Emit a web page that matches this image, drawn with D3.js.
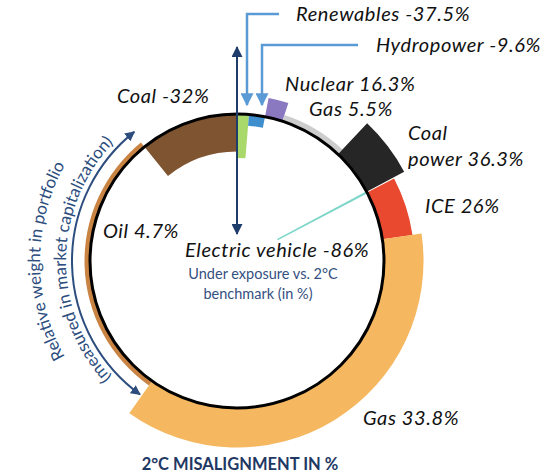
<!DOCTYPE html>
<html>
<head>
<meta charset="utf-8">
<script src="https://cdn.jsdelivr.net/npm/d3@7"></script>
<style>
  body { margin: 0; background: #fff; }
  svg text { font-family: Lato, "Open Sans", sans-serif; }
</style>
</head>
<body>
<svg id="svg"></svg>
<script>
// sectors clockwise from 12 o'clock
var sectors = ["Renewables", "Hydropower", "Nuclear", "Gas", "Coal power",
               "Electric vehicle", "ICE", "Gas", "Oil", "Coal"];
// relative weight in portfolio (%), sets the angular span
var weights = [1.3, 1.75, 1.95, 7.05, 5.15, 0.1, 5.35, 37.15, 29.35, 10.85];
// 2°C misalignment (%), sets the radial extent
var misalignment = [-37.5, -9.6, 16.3, 5.5, 36.3, -86, 26, 33.8, 4.7, -32];
var colors = ["#a9d86b", "#3f8fcf", "#8a78c0", "#cdcdcd", "#262626",
              "#7dd6c9", "#e8492f", "#f5b860", "#c98443", "#7f5431"];

var width = 560,
    height = 475,
    cx = 237,
    cy = 261,
    r0 = 147,
    navy = "#1f3d6b",
    textBlue = "#34507f",
    lightBlue = "#5b9bd5";

// where each value label sits (layout only)
var labelPos = [
  {x: 296, y: 21}, {x: 376, y: 52}, {x: 285, y: 91}, {x: 309, y: 116},
  {x: 408, y: 140, wrap: true}, {x: 185, y: 257}, {x: 425, y: 213},
  {x: 363, y: 425}, {x: 103, y: 238}, {x: 117, y: 103}
];

var svg = d3.select("#svg")
  .attr("width", width)
  .attr("height", height);

var defs = svg.append("defs");

function addMarker(id, color, len, wid) {
  defs.append("marker")
    .attr("id", id)
    .attr("viewBox", "0 0 10 10")
    .attr("refX", 9)
    .attr("refY", 5)
    .attr("markerWidth", len)
    .attr("markerHeight", wid)
    .attr("markerUnits", "userSpaceOnUse")
    .attr("orient", "auto-start-reverse")
    .append("path")
    .attr("d", "M0,0L10,5L0,10Z")
    .attr("fill", color);
}
addMarker("headLight", lightBlue, 13, 13);
addMarker("headNavy", navy, 12, 11);
addMarker("headArc", "#2c4d7e", 10, 10);

var total = d3.sum(weights);
var angle = d3.scaleLinear().domain([0, total]).range([0, 2 * Math.PI]);
var radius = d3.scaleLinear().domain([0, 100]).range([r0, r0 + 117]);

var cum = 0;
var segs = sectors.map(function(s, i) {
  var d = {name: s, w: weights[i], v: misalignment[i], color: colors[i],
           a0: angle(cum), a1: angle(cum + weights[i])};
  cum += weights[i];
  return d;
});

var arc = d3.arc()
  .startAngle(function(d) { return d.a0; })
  .endAngle(function(d) { return d.a1; })
  .innerRadius(function(d) { return Math.min(radius(0), radius(d.v)); })
  .outerRadius(function(d) { return Math.max(radius(0), radius(d.v)); });

var g = svg.append("g").attr("transform", "translate(" + cx + "," + cy + ")");

g.selectAll("path.seg")
  .data(segs)
  .enter()
  .append("path")
  .attr("class", "seg")
  .attr("d", arc)
  .attr("fill", function(d) { return d.color; })
  .attr("stroke", function(d) { return d.w < 0.5 ? d.color : "none"; })
  .attr("stroke-width", 1.3);

// benchmark circle
g.append("circle")
  .attr("r", r0)
  .attr("fill", "none")
  .attr("stroke", "#000")
  .attr("stroke-width", 3);

// vertical under/over exposure axis
svg.append("line")
  .attr("x1", cx).attr("y1", 47)
  .attr("x2", cx).attr("y2", 234)
  .attr("stroke", navy)
  .attr("stroke-width", 2)
  .attr("marker-start", "url(#headNavy)")
  .attr("marker-end", "url(#headNavy)");

// call-outs for the small renewables / hydropower slices
var callouts = [
  [[279, 14], [247, 14], [247, 105]],
  [[358, 45], [262, 45], [262, 105]]
];
svg.selectAll("path.callout")
  .data(callouts)
  .enter()
  .append("path")
  .attr("class", "callout")
  .attr("d", d3.line())
  .attr("fill", "none")
  .attr("stroke", lightBlue)
  .attr("stroke-width", 2.5)
  .attr("marker-end", "url(#headLight)");

// arc helper, degrees clockwise from 12 o'clock
function arcD(r, d0, d1) {
  var p = d3.path();
  p.arc(0, 0, r, (d0 - 90) * Math.PI / 180, (d1 - 90) * Math.PI / 180, false);
  return p.toString();
}

// weight arrow along the left side
g.append("path")
  .attr("d", arcD(165, 216, 321.5))
  .attr("fill", "none")
  .attr("stroke", "#2c4d7e")
  .attr("stroke-width", 2)
  .attr("marker-start", "url(#headArc)")
  .attr("marker-end", "url(#headArc)");

defs.append("path").attr("id", "tp1").attr("d", arcD(197, 195, 345));
defs.append("path").attr("id", "tp2").attr("d", arcD(171, 195, 346));

g.append("text")
  .attr("fill", "#2c4d7e")
  .style("font-size", "17px")
  .append("textPath")
  .attr("href", "#tp1")
  .attr("startOffset", "50%")
  .attr("text-anchor", "middle")
  .text("Relative weight in portfolio");

g.append("text")
  .attr("fill", "#2c4d7e")
  .style("font-size", "17px")
  .append("textPath")
  .attr("href", "#tp2")
  .attr("startOffset", "50%")
  .attr("text-anchor", "middle")
  .text("(measured in market capitalization)");

// value labels
function fmt(v) { return v + "%"; }
segs.forEach(function(d, i) {
  var p = labelPos[i];
  var t = svg.append("text")
    .attr("x", p.x)
    .attr("y", p.y)
    .style("font-size", "20px")
    .style("font-style", "italic")
    .style("letter-spacing", "0.6px")
    .attr("fill", "#111");
  if (p.wrap) {
    var words = d.name.split(" ");
    t.append("tspan").attr("x", p.x).text(words[0]);
    t.append("tspan").attr("x", p.x).attr("dy", 26).text(words.slice(1).join(" ") + " " + fmt(d.v));
  } else {
    t.text(d.name + " " + fmt(d.v));
  }
});

svg.append("text")
  .attr("x", 263).attr("y", 279)
  .attr("text-anchor", "middle")
  .attr("fill", textBlue)
  .style("font-size", "14.5px")
  .text("Under exposure vs. 2°C");
svg.append("text")
  .attr("x", 258).attr("y", 299)
  .attr("text-anchor", "middle")
  .attr("fill", textBlue)
  .style("font-size", "14.5px")
  .text("benchmark (in %)");

svg.append("text")
  .attr("x", 240).attr("y", 470)
  .attr("text-anchor", "middle")
  .attr("fill", "#1f3864")
  .style("font-size", "16.5px")
  .style("font-weight", "bold")
  .text("2°C MISALIGNMENT IN %");
</script>
</body>
</html>
